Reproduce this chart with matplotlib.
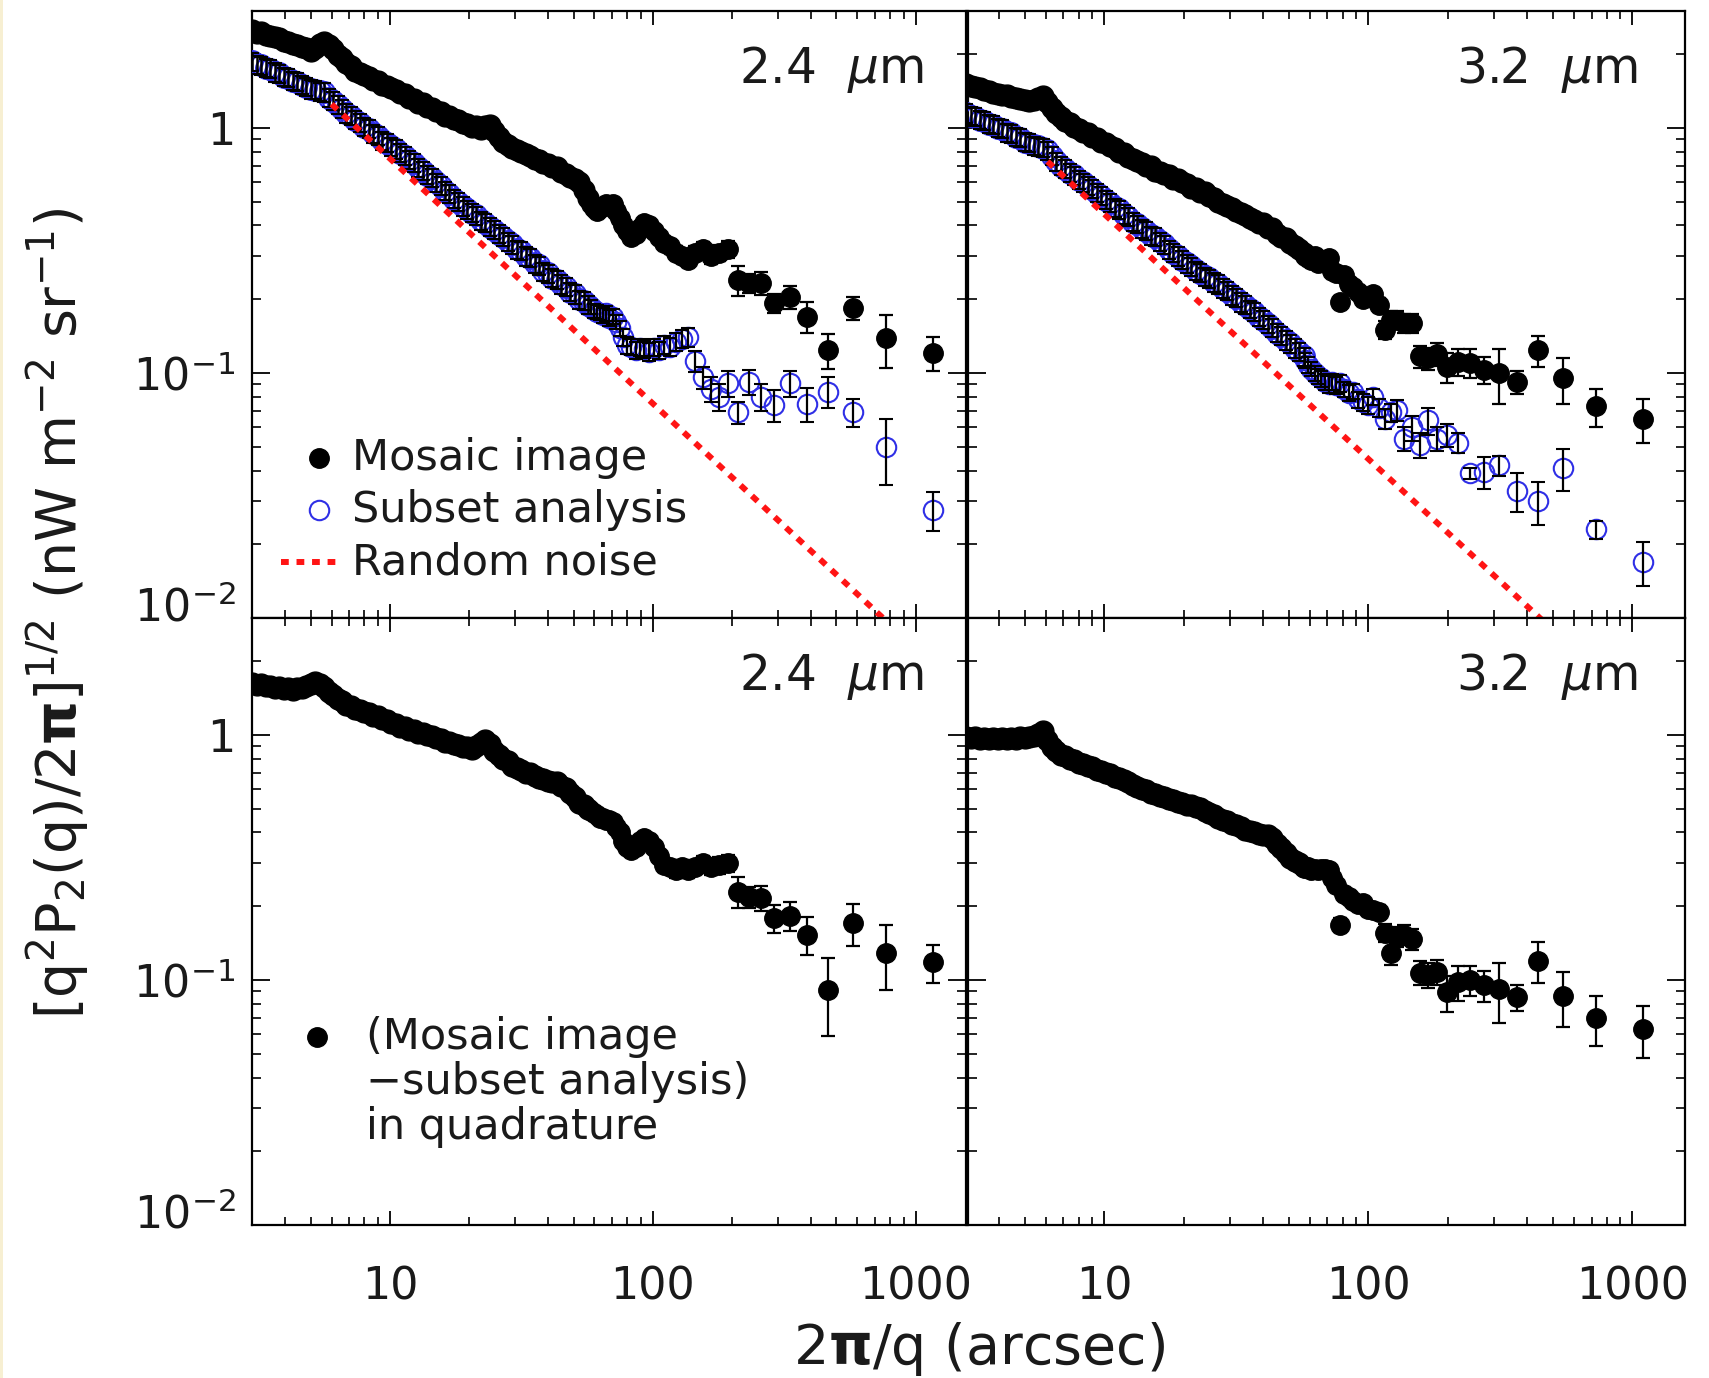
import matplotlib
matplotlib.use('Agg')
import matplotlib.pyplot as plt
from matplotlib.patches import Rectangle
from matplotlib.transforms import ScaledTranslation
from matplotlib.ticker import FixedLocator, FixedFormatter, LogLocator, NullFormatter

# dense grid of small angular scales (arcsec), shared by all panels
x_dense = [3.00, 3.12, 3.245, 3.375, 3.51, 3.65, 3.796, 3.948, 4.106, 4.27, 4.44, 4.618,
           4.803, 4.995, 5.195, 5.403, 5.619, 5.844, 6.077, 6.32, 6.573, 6.836, 7.11, 7.394,
           7.69, 7.998, 8.318, 8.65, 8.996, 9.356, 9.73, 10.12, 10.52, 10.95, 11.38, 11.84,
           12.31, 12.81, 13.32, 13.85, 14.40, 14.98, 15.58, 16.20, 16.85, 17.53, 18.23, 18.96,
           19.71, 20.50, 21.32, 22.18, 23.06, 23.99, 24.95, 25.94, 26.98, 28.06, 29.18, 30.35,
           31.56, 32.83, 34.14, 35.51, 36.93, 38.40, 39.94, 41.54, 43.20, 44.93, 46.72, 48.59,
           50.53, 52.56, 54.66, 56.85]

# large-scale bins, drawn with error bars
x_bin_24 = [58.05, 59.54, 61.11, 62.76, 64.50, 66.34, 68.29, 70.36, 72.56, 74.90, 77.40,
            80.07, 82.93, 86.00, 89.31, 92.88, 96.75, 100.96, 105.55, 110.57, 116.1, 122.2,
            129.0, 136.6, 145.1, 154.8, 165.9, 178.6, 193.5,
            211, 232, 258, 290, 332, 387, 464, 580, 774, 1161]
x_bin_32 = [57.68, 59.24, 60.89, 62.63, 64.47, 66.42, 68.5, 70.71, 73.07, 75.59, 78.29,
            81.19, 84.31, 87.68, 91.33, 95.3, 99.64, 104.4, 109.6, 115.4, 121.8, 128.9,
            137.0, 146.1, 156.6, 168.6, 182.7,
            199.3, 219.2, 243.6, 274.0, 313.1, 365.3, 438.4, 548.0, 730.7, 1096]

# ---------------- 2.4 um ----------------
mosaic_24_dense = [2.50, 2.44, 2.47, 2.40, 2.37, 2.34, 2.32, 2.26, 2.25, 2.20, 2.19, 2.13,
                   2.11, 2.06, 2.12, 2.20, 2.25, 2.19, 2.10, 1.98, 1.93, 1.84, 1.79, 1.71,
                   1.68, 1.64, 1.62, 1.57, 1.55, 1.50, 1.48, 1.45, 1.43, 1.39, 1.37, 1.33,
                   1.31, 1.27, 1.26, 1.22, 1.21, 1.17, 1.16, 1.12, 1.12, 1.09, 1.08, 1.05,
                   1.04, 1.01, 1.02, 0.99, 1.02, 1.03, 0.97, 0.92, 0.88, 0.85, 0.83, 0.81,
                   0.80, 0.78, 0.77, 0.75, 0.74, 0.72, 0.71, 0.69, 0.69, 0.66, 0.65, 0.63,
                   0.62, 0.60, 0.56, 0.52]
mosaic_24_bin = [0.49, 0.47, 0.46, 0.47, 0.48, 0.49, 0.48, 0.49, 0.46, 0.43, 0.40, 0.38,
                 0.36, 0.37, 0.39, 0.41, 0.40, 0.38, 0.36, 0.34, 0.33, 0.31, 0.30, 0.29,
                 0.31, 0.32, 0.30, 0.31, 0.32,
                 0.24, 0.233, 0.233, 0.193, 0.204, 0.17, 0.124, 0.184, 0.139, 0.121]
mosaic_24_err = [0.012, 0.012, 0.012, 0.012, 0.012, 0.013, 0.013, 0.013, 0.013, 0.014, 0.014,
                 0.014, 0.015, 0.015, 0.015, 0.016, 0.016, 0.017, 0.017, 0.018, 0.018, 0.019,
                 0.019, 0.02, 0.02, 0.021, 0.022, 0.023, 0.025,
                 0.033, 0.02, 0.025, 0.018, 0.022, 0.025, 0.02, 0.02, 0.034, 0.019]

subset_24_dense = [1.87, 1.82, 1.80, 1.76, 1.74, 1.69, 1.67, 1.62, 1.60, 1.56, 1.54, 1.50,
                   1.47, 1.44, 1.43, 1.41, 1.40, 1.33, 1.29, 1.24, 1.20, 1.15, 1.12, 1.08,
                   1.05, 1.01, 0.99, 0.95, 0.93, 0.89, 0.87, 0.84, 0.82, 0.79, 0.77, 0.74,
                   0.72, 0.69, 0.67, 0.645, 0.625, 0.60, 0.58, 0.555, 0.54, 0.515, 0.50, 0.48,
                   0.465, 0.45, 0.44, 0.42, 0.41, 0.395, 0.385, 0.37, 0.36, 0.345, 0.335, 0.32,
                   0.315, 0.30, 0.295, 0.28, 0.275, 0.26, 0.255, 0.245, 0.24, 0.23, 0.225, 0.215,
                   0.21, 0.20, 0.197, 0.19]
subset_24_dense_err = [0.16, 0.155, 0.153, 0.15, 0.148, 0.144, 0.142, 0.138, 0.136, 0.133,
                       0.131, 0.128, 0.125, 0.122, 0.122, 0.12, 0.119, 0.113, 0.11, 0.105,
                       0.102, 0.098, 0.095, 0.092, 0.089, 0.086, 0.084, 0.081, 0.079, 0.076,
                       0.074, 0.071, 0.07, 0.067, 0.065, 0.063, 0.061, 0.059, 0.057, 0.055,
                       0.053, 0.051, 0.049, 0.047, 0.046, 0.044, 0.043, 0.041, 0.04, 0.038,
                       0.037, 0.036, 0.035, 0.034, 0.033, 0.031, 0.031, 0.029, 0.028, 0.027,
                       0.027, 0.026, 0.025, 0.024, 0.023, 0.022, 0.022, 0.021, 0.02, 0.02,
                       0.019, 0.018, 0.018, 0.017, 0.017, 0.016]
subset_24_bin = [0.186, 0.18, 0.178, 0.176, 0.172, 0.175, 0.168, 0.17, 0.162, 0.152, 0.14,
                 0.13, 0.128, 0.124, 0.127, 0.125, 0.122, 0.127, 0.124, 0.13, 0.128, 0.134,
                 0.138, 0.14, 0.112, 0.096, 0.086, 0.080, 0.091,
                 0.069, 0.092, 0.080, 0.074, 0.091, 0.075, 0.084, 0.069, 0.050, 0.0276]
subset_24_err = [0.012, 0.012, 0.012, 0.012, 0.012, 0.012, 0.012, 0.012, 0.011, 0.011, 0.011,
                 0.01, 0.01, 0.01, 0.01, 0.01, 0.01, 0.01, 0.01, 0.011, 0.011, 0.011,
                 0.012, 0.012, 0.011, 0.01, 0.01, 0.01, 0.011,
                 0.007, 0.011, 0.010, 0.011, 0.011, 0.012, 0.012, 0.009, 0.015, 0.005]

noise_24_x = [6.0, 800]
noise_24_y = [1.25, 0.0094]

diff_24_dense = [1.63, 1.60, 1.61, 1.58, 1.58, 1.56, 1.57, 1.54, 1.55, 1.53, 1.55, 1.56,
                 1.58, 1.62, 1.64, 1.62, 1.57, 1.50, 1.45, 1.40, 1.37, 1.33, 1.31, 1.28,
                 1.27, 1.24, 1.23, 1.20, 1.19, 1.16, 1.15, 1.12, 1.11, 1.08, 1.08, 1.05,
                 1.05, 1.02, 1.02, 1.00, 0.99, 0.97, 0.96, 0.94, 0.94, 0.92, 0.91, 0.89,
                 0.89, 0.88, 0.90, 0.93, 0.95, 0.92, 0.86, 0.83, 0.80, 0.78, 0.75, 0.73,
                 0.72, 0.70, 0.70, 0.68, 0.67, 0.66, 0.65, 0.64, 0.64, 0.62, 0.61, 0.58,
                 0.56, 0.53, 0.52, 0.50]
diff_24_bin = [0.49, 0.48, 0.47, 0.46, 0.46, 0.45, 0.45, 0.44, 0.42, 0.40, 0.37, 0.35,
               0.34, 0.35, 0.37, 0.38, 0.37, 0.35, 0.32, 0.295, 0.29, 0.28, 0.29, 0.28,
               0.29, 0.30, 0.29, 0.295, 0.30,
               0.229, 0.218, 0.216, 0.179, 0.183, 0.153, 0.091, 0.171, 0.129, 0.118]
diff_24_err = [0.012, 0.012, 0.012, 0.012, 0.012, 0.013, 0.013, 0.013, 0.013, 0.014, 0.014,
               0.014, 0.015, 0.015, 0.015, 0.016, 0.016, 0.017, 0.017, 0.018, 0.018, 0.019,
               0.019, 0.02, 0.02, 0.021, 0.022, 0.023, 0.025,
               0.033, 0.022, 0.025, 0.023, 0.025, 0.027, 0.032, 0.033, 0.038, 0.021]

# ---------------- 3.2 um ----------------
mosaic_32_dense = [1.51, 1.48, 1.47, 1.45, 1.43, 1.41, 1.39, 1.38, 1.36, 1.36, 1.34, 1.33,
                   1.31, 1.30, 1.29, 1.30, 1.32, 1.35, 1.28, 1.21, 1.15, 1.11, 1.07, 1.05,
                   1.01, 0.99, 0.96, 0.95, 0.92, 0.91, 0.88, 0.87, 0.84, 0.83, 0.80, 0.79,
                   0.76, 0.75, 0.73, 0.72, 0.70, 0.70, 0.67, 0.66, 0.65, 0.64, 0.62, 0.62,
                   0.60, 0.59, 0.57, 0.57, 0.55, 0.55, 0.53, 0.52, 0.50, 0.49, 0.48, 0.47,
                   0.46, 0.45, 0.44, 0.43, 0.42, 0.41, 0.41, 0.39, 0.39, 0.37, 0.36, 0.355,
                   0.34, 0.33, 0.32, 0.31]
mosaic_32_bin = [0.30, 0.295, 0.29, 0.30, 0.28, 0.285, 0.29, 0.295, 0.26, 0.255, 0.195,
                 0.25, 0.23, 0.224, 0.215, 0.20, 0.205, 0.21, 0.19, 0.15, 0.165, 0.165,
                 0.16, 0.16, 0.117, 0.115, 0.12,
                 0.106, 0.111, 0.110, 0.103, 0.10, 0.092, 0.124, 0.095, 0.073, 0.065]
mosaic_32_err = [0.01, 0.01, 0.01, 0.01, 0.01, 0.01, 0.011, 0.011, 0.011, 0.011, 0.011,
                 0.012, 0.012, 0.012, 0.012, 0.013, 0.013, 0.013, 0.013, 0.013, 0.014, 0.014,
                 0.014, 0.014, 0.012, 0.012, 0.013,
                 0.015, 0.014, 0.015, 0.013, 0.025, 0.01, 0.018, 0.02, 0.013, 0.013]

subset_32_dense = [1.15, 1.12, 1.11, 1.08, 1.07, 1.04, 1.03, 1.00, 0.99, 0.96, 0.95, 0.92,
                   0.91, 0.88, 0.87, 0.85, 0.84, 0.83, 0.81, 0.77, 0.73, 0.70, 0.68, 0.655,
                   0.64, 0.615, 0.60, 0.58, 0.565, 0.545, 0.53, 0.51, 0.495, 0.475, 0.465, 0.445,
                   0.435, 0.415, 0.405, 0.39, 0.38, 0.365, 0.36, 0.345, 0.335, 0.32, 0.31, 0.30,
                   0.29, 0.28, 0.272, 0.262, 0.257, 0.248, 0.243, 0.235, 0.23, 0.222, 0.217, 0.208,
                   0.203, 0.195, 0.19, 0.182, 0.178, 0.17, 0.165, 0.158, 0.153, 0.146, 0.142,
                   0.136, 0.132, 0.126, 0.122, 0.117]
subset_32_dense_err = [0.098, 0.095, 0.094, 0.092, 0.091, 0.088, 0.088, 0.085, 0.084, 0.082,
                       0.081, 0.078, 0.077, 0.075, 0.074, 0.072, 0.071, 0.071, 0.069, 0.065,
                       0.062, 0.06, 0.058, 0.056, 0.054, 0.052, 0.051, 0.049, 0.048, 0.046,
                       0.045, 0.043, 0.042, 0.04, 0.04, 0.038, 0.037, 0.035, 0.034, 0.033,
                       0.032, 0.031, 0.031, 0.029, 0.028, 0.027, 0.026, 0.026, 0.025, 0.024,
                       0.023, 0.022, 0.022, 0.021, 0.021, 0.02, 0.02, 0.019, 0.018, 0.018,
                       0.017, 0.017, 0.016, 0.015, 0.015, 0.014, 0.014, 0.013, 0.013, 0.012,
                       0.012, 0.012, 0.011, 0.011, 0.010, 0.010]
subset_32_bin = [0.113, 0.108, 0.104, 0.10, 0.097, 0.095, 0.092, 0.090, 0.092, 0.089, 0.091,
                 0.086, 0.083, 0.084, 0.078, 0.076, 0.074, 0.080, 0.072, 0.065, 0.069, 0.0706,
                 0.054, 0.060, 0.051, 0.064, 0.054,
                 0.056, 0.052, 0.039, 0.0395, 0.042, 0.033, 0.030, 0.041, 0.023, 0.017]
subset_32_err = [0.008, 0.008, 0.007, 0.007, 0.007, 0.007, 0.007, 0.007, 0.007, 0.007, 0.007,
                 0.006, 0.006, 0.006, 0.006, 0.006, 0.006, 0.006, 0.006, 0.006, 0.006, 0.007,
                 0.006, 0.007, 0.006, 0.008, 0.006,
                 0.006, 0.005, 0.002, 0.006, 0.004, 0.006, 0.006, 0.008, 0.002, 0.0035]

noise_32_x = [6.1, 460]
noise_32_y = [0.73, 0.0097]

diff_32_dense = [0.98, 0.97, 0.98, 0.96, 0.97, 0.96, 0.97, 0.96, 0.97, 0.96, 0.97, 0.965,
                 0.98, 0.97, 0.98, 0.99, 1.01, 1.04, 0.95, 0.89, 0.86, 0.83, 0.82, 0.80,
                 0.79, 0.77, 0.76, 0.75, 0.74, 0.72, 0.71, 0.70, 0.69, 0.675, 0.67, 0.655,
                 0.645, 0.625, 0.615, 0.60, 0.595, 0.58, 0.575, 0.565, 0.56, 0.55, 0.545, 0.535,
                 0.53, 0.52, 0.52, 0.51, 0.505, 0.49, 0.48, 0.47, 0.46, 0.45, 0.445, 0.435,
                 0.43, 0.42, 0.41, 0.405, 0.40, 0.395, 0.39, 0.39, 0.38, 0.36, 0.345, 0.33,
                 0.315, 0.305, 0.30, 0.29]
diff_32_bin = [0.286, 0.29, 0.28, 0.285, 0.28, 0.283, 0.285, 0.281, 0.26, 0.245, 0.168,
               0.225, 0.218, 0.21, 0.205, 0.206, 0.195, 0.193, 0.19, 0.156, 0.129, 0.15,
               0.153, 0.147, 0.107, 0.105, 0.108,
               0.089, 0.098, 0.10, 0.095, 0.092, 0.085, 0.12, 0.086, 0.070, 0.063]
diff_32_err = [0.01, 0.01, 0.01, 0.01, 0.01, 0.01, 0.01, 0.011, 0.011, 0.011, 0.011,
               0.012, 0.012, 0.012, 0.012, 0.013, 0.013, 0.013, 0.013, 0.013, 0.014, 0.014,
               0.014, 0.014, 0.012, 0.012, 0.013,
               0.015, 0.016, 0.014, 0.014, 0.025, 0.01, 0.023, 0.022, 0.016, 0.015]

TEXT = '#1a1a1a'
BLUE = '#2f2fe6'
RED = '#ff1414'
MS = 14          # binned points
MS_D = 15        # dense small-scale points
NOISE_STYLE = dict(color=RED, lw=4.3, linestyle=(0, (1.3, 1.3)), dash_capstyle='butt')

plt.rcParams['font.family'] = ['DejaVu Sans']
plt.rcParams['mathtext.fontset'] = 'dejavusans'
plt.rcParams['mathtext.default'] = 'regular'


def setup_axes(ax, xlim, xlabels, ylabels):
    ax.set_xscale('log')
    ax.set_yscale('log')
    ax.set_xlim(*xlim)
    ax.set_ylim(0.01, 3.0)
    ax.xaxis.set_major_locator(FixedLocator([10, 100, 1000]))
    ax.yaxis.set_major_locator(FixedLocator([0.01, 0.1, 1]))
    ax.xaxis.set_minor_locator(LogLocator(base=10, subs=range(2, 10), numticks=20))
    ax.yaxis.set_minor_locator(LogLocator(base=10, subs=range(2, 10), numticks=20))
    ax.xaxis.set_minor_formatter(NullFormatter())
    ax.yaxis.set_minor_formatter(NullFormatter())
    if xlabels:
        ax.xaxis.set_major_formatter(FixedFormatter(['10', '100', '1000']))
    else:
        ax.xaxis.set_major_formatter(NullFormatter())
    if ylabels:
        ax.yaxis.set_major_formatter(FixedFormatter(['10$^{-2}$', '10$^{-1}$', '1']))
    else:
        ax.yaxis.set_major_formatter(NullFormatter())
    ax.tick_params(which='both', direction='in', top=True, right=True, color='k',
                   labelcolor=TEXT)
    ax.tick_params(axis='x', which='major', length=10, width=1.3, pad=29, labelsize=32)
    ax.tick_params(axis='x', which='minor', length=5.5, width=1.2)
    ax.tick_params(axis='y', which='major', length=13, width=1.3, pad=12, labelsize=32)
    ax.tick_params(axis='y', which='minor', length=6.5, width=1.2)
    for s in ax.spines.values():
        s.set_linewidth(1.6)
    if ylabels:
        # the lowest label sits a little above its tick
        lab = ax.yaxis.get_major_ticks()[0].label1
        lab.set_transform(lab.get_transform() +
                          ScaledTranslation(0, 0.14, ax.figure.dpi_scale_trans))


def draw_filled(ax, xd, yd, xb, yb, eb):
    ax.plot(xd, yd, 'o', ms=MS_D, color='k', zorder=3)
    ax.errorbar(xb, yb, yerr=eb, fmt='o', ms=MS, color='k', ecolor='k',
                elinewidth=1.6, capsize=4.7, capthick=1.6, zorder=3)


def draw_open(ax, xd, yd, ed, xb, yb, eb):
    ax.errorbar(xd, yd, yerr=ed, fmt='o', ms=MS_D, mfc='none', mec=BLUE, mew=1.5,
                ecolor='k', elinewidth=1.8, capsize=5, capthick=1.8,
                barsabove=True, zorder=3)
    ax.errorbar(xb, yb, yerr=eb, fmt='o', ms=MS, mfc='none', mec=BLUE, mew=1.5,
                ecolor='k', elinewidth=1.6, capsize=4.7, capthick=1.6,
                barsabove=True, zorder=3)


fig = plt.figure(figsize=(17.09, 13.78), dpi=100)
fig.add_artist(Rectangle((0, 0), 3 / 1709, 1, transform=fig.transFigure,
                         facecolor='#f7efd2', edgecolor='none'))

ax_tl = fig.add_axes([0.1475, 0.5515, 0.4175, 0.4405])
ax_tr = fig.add_axes([0.5664, 0.5515, 0.4195, 0.4405])
ax_bl = fig.add_axes([0.1475, 0.1110, 0.4175, 0.4405])
ax_br = fig.add_axes([0.5664, 0.1110, 0.4195, 0.4405])

xlim_left = (2.99, 1550)
xlim_right = (3.05, 1580)

setup_axes(ax_tl, xlim_left, False, True)
setup_axes(ax_tr, xlim_right, False, False)
setup_axes(ax_bl, xlim_left, True, True)
setup_axes(ax_br, xlim_right, True, False)

# top row: mosaic image, subset analysis, random noise
draw_filled(ax_tl, x_dense, mosaic_24_dense, x_bin_24, mosaic_24_bin, mosaic_24_err)
draw_open(ax_tl, x_dense, subset_24_dense, subset_24_dense_err,
          x_bin_24, subset_24_bin, subset_24_err)
ax_tl.plot(noise_24_x, noise_24_y, zorder=5, **NOISE_STYLE)

draw_filled(ax_tr, x_dense, mosaic_32_dense, x_bin_32, mosaic_32_bin, mosaic_32_err)
draw_open(ax_tr, x_dense, subset_32_dense, subset_32_dense_err,
          x_bin_32, subset_32_bin, subset_32_err)
ax_tr.plot(noise_32_x, noise_32_y, zorder=5, **NOISE_STYLE)

# bottom row: mosaic minus subset, in quadrature
draw_filled(ax_bl, x_dense, diff_24_dense, x_bin_24, diff_24_bin, diff_24_err)
draw_filled(ax_br, x_dense, diff_32_dense, x_bin_32, diff_32_bin, diff_32_err)

# wavelength labels
for ax, lab, xr in [(ax_tl, '2.4', 0.941), (ax_bl, '2.4', 0.941),
                    (ax_tr, '3.2', 0.934), (ax_br, '3.2', 0.934)]:
    ax.text(xr, 0.903, lab + r'  $\mathit{\mu}$m', transform=ax.transAxes,
            ha='right', va='center', fontsize=35, color=TEXT)

# legend, top left
leg_fs = 31
ax_tl.plot([0.094], [0.264], 'o', ms=MS, color='k', transform=ax_tl.transAxes,
           clip_on=False)
ax_tl.text(0.140, 0.264, 'Mosaic image', transform=ax_tl.transAxes,
           va='center', ha='left', fontsize=leg_fs, color=TEXT)
ax_tl.plot([0.094], [0.178], 'o', ms=MS, mfc='none', mec=BLUE, mew=1.5,
           transform=ax_tl.transAxes, clip_on=False)
ax_tl.text(0.140, 0.178, 'Subset analysis', transform=ax_tl.transAxes,
           va='center', ha='left', fontsize=leg_fs, color=TEXT)
ax_tl.plot([0.041, 0.128], [0.092, 0.092], transform=ax_tl.transAxes,
           clip_on=False, **NOISE_STYLE)
ax_tl.text(0.140, 0.092, 'Random noise', transform=ax_tl.transAxes,
           va='center', ha='left', fontsize=leg_fs, color=TEXT)

# legend, bottom left
ax_bl.plot([0.091], [0.310], 'o', ms=MS, color='k', transform=ax_bl.transAxes,
           clip_on=False)
for yy, line in [(0.310, '(Mosaic image'), (0.236, '\u2212subset analysis)'),
                 (0.162, 'in quadrature')]:
    ax_bl.text(0.160, yy, line, transform=ax_bl.transAxes, va='center', ha='left',
               fontsize=leg_fs, color=TEXT)

fig.text(0.573, 0.021, r'2$\mathbf{\pi}$/q (arcsec)', ha='center', va='center',
         fontsize=40, color=TEXT)
fig.text(0.034, 0.555, r'$[q^2P_2(q)/2\mathbf{\pi}]^{1/2}$ (nW m$^{-2}$ sr$^{-1}$)',
         rotation=90, ha='center', va='center', fontsize=40, color=TEXT)

fig.savefig('out.png', dpi=100)
